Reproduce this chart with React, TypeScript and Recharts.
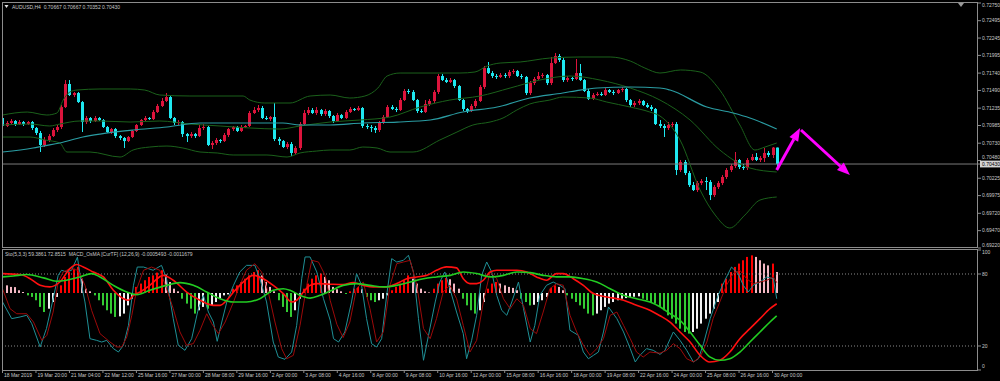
import React from "react";
import { Bar, Cell, ComposedChart, Line, ReferenceLine, XAxis, YAxis } from "recharts";

const FONT = '"Liberation Sans", Arial, sans-serif';
const TEXT = "#c8c8c8";
const FRAME = "#8c8c8c";
const BULL = "#dc143c";
const BEAR = "#1ee8f0";
const BAND = "#1b611b";
const MA = "#2a9ca2";
const STO_MAIN = "#1f9096";
const STO_SIG = "#9c0a0a";
const MACD_COLOR = "#ff1010";
const SIGNAL_COLOR = "#22cc22";
const MAGENTA = "#ff00ff";

const X_DOMAIN: [number, number] = [-0.12, 233.1];
const LAST_PRICE = 0.7043;

// AUDUSD H4 candles: [open, high, low, close]
const candles: number[][] = [
  [0.71093, 0.71122, 0.70949, 0.70978], [0.70978, 0.7105, 0.70963, 0.71021], [0.71021, 0.71078, 0.70992, 0.7105],
  [0.7105, 0.71064, 0.70978, 0.71006], [0.71006, 0.71064, 0.70992, 0.71035], [0.71035, 0.7105, 0.70978, 0.71006],
  [0.71006, 0.7105, 0.70992, 0.71035], [0.71035, 0.7105, 0.7092, 0.70949], [0.70949, 0.70963, 0.70848, 0.70877],
  [0.70877, 0.70906, 0.70603, 0.70704], [0.70704, 0.70819, 0.70675, 0.70776], [0.70776, 0.70862, 0.70747, 0.70833],
  [0.70833, 0.70949, 0.70819, 0.7092], [0.7092, 0.70992, 0.70891, 0.70963], [0.70963, 0.7128, 0.70934, 0.71251],
  [0.71251, 0.7164, 0.71237, 0.71583], [0.71583, 0.7164, 0.7141, 0.71424], [0.71424, 0.71468, 0.71395, 0.71453],
  [0.71453, 0.71468, 0.71309, 0.71323], [0.71323, 0.71338, 0.70891, 0.71035], [0.71035, 0.71122, 0.71006, 0.71093],
  [0.71093, 0.71107, 0.71021, 0.7105], [0.7105, 0.71122, 0.71035, 0.71093], [0.71093, 0.71107, 0.7105, 0.71064],
  [0.71064, 0.71078, 0.70949, 0.70963], [0.70963, 0.70978, 0.70877, 0.70891], [0.70891, 0.70949, 0.70862, 0.70934],
  [0.70934, 0.70949, 0.70805, 0.70833], [0.70833, 0.70848, 0.70776, 0.70805], [0.70805, 0.70819, 0.70661, 0.70761],
  [0.70761, 0.70833, 0.70747, 0.70819], [0.70819, 0.7092, 0.70805, 0.70906], [0.70906, 0.71006, 0.70891, 0.70992],
  [0.70992, 0.71078, 0.70978, 0.71064], [0.71064, 0.71122, 0.7105, 0.71093], [0.71093, 0.71107, 0.71064, 0.71078],
  [0.71078, 0.71208, 0.71064, 0.71179], [0.71179, 0.71295, 0.71165, 0.71266], [0.71266, 0.71381, 0.71251, 0.71338],
  [0.71338, 0.71453, 0.71323, 0.71395], [0.71395, 0.7141, 0.71078, 0.71093], [0.71093, 0.71107, 0.70992, 0.71021],
  [0.71021, 0.71064, 0.70992, 0.71035], [0.71035, 0.7105, 0.70819, 0.70862], [0.70862, 0.70877, 0.70747, 0.70833],
  [0.70833, 0.70891, 0.70805, 0.70862], [0.70862, 0.70877, 0.70805, 0.70833], [0.70833, 0.70992, 0.70819, 0.70949],
  [0.70949, 0.71006, 0.7092, 0.70963], [0.70963, 0.70978, 0.70689, 0.70704], [0.70704, 0.70761, 0.70646, 0.70733],
  [0.70733, 0.70805, 0.70704, 0.70776], [0.70776, 0.7079, 0.70733, 0.70761], [0.70761, 0.70877, 0.70747, 0.70848],
  [0.70848, 0.70949, 0.70819, 0.70934], [0.70934, 0.70978, 0.70906, 0.70963], [0.70963, 0.70978, 0.70891, 0.70906],
  [0.70906, 0.70992, 0.70891, 0.70963], [0.70963, 0.70992, 0.70949, 0.70978], [0.70978, 0.71194, 0.70963, 0.71165],
  [0.71165, 0.71251, 0.71151, 0.71208], [0.71208, 0.7128, 0.71179, 0.71237], [0.71237, 0.71266, 0.71078, 0.71093],
  [0.71093, 0.71122, 0.71064, 0.71078], [0.71078, 0.71122, 0.7105, 0.71107], [0.71107, 0.71309, 0.70761, 0.7079],
  [0.7079, 0.70819, 0.70704, 0.70761], [0.70761, 0.70776, 0.70661, 0.70675], [0.70675, 0.70747, 0.70646, 0.70718],
  [0.70718, 0.70747, 0.70545, 0.70589], [0.70589, 0.70689, 0.7056, 0.70661], [0.70661, 0.71035, 0.70632, 0.71006],
  [0.71006, 0.71208, 0.70992, 0.71165], [0.71165, 0.71251, 0.71136, 0.71208], [0.71208, 0.71237, 0.71151, 0.71165],
  [0.71165, 0.71251, 0.71136, 0.71208], [0.71208, 0.71223, 0.71122, 0.71151], [0.71151, 0.71223, 0.71122, 0.71194],
  [0.71194, 0.71208, 0.71093, 0.71122], [0.71122, 0.71136, 0.71021, 0.7105], [0.7105, 0.71165, 0.71035, 0.71136],
  [0.71136, 0.71151, 0.71078, 0.71093], [0.71093, 0.71208, 0.71078, 0.71179], [0.71179, 0.71251, 0.71165, 0.71223],
  [0.71223, 0.71237, 0.71194, 0.71208], [0.71208, 0.71266, 0.71194, 0.71237], [0.71237, 0.71251, 0.70949, 0.70978],
  [0.70978, 0.71006, 0.70934, 0.70963], [0.70963, 0.70992, 0.70891, 0.70949], [0.70949, 0.70978, 0.70877, 0.7092],
  [0.7092, 0.7105, 0.70891, 0.71021], [0.71021, 0.71136, 0.71006, 0.71107], [0.71107, 0.7128, 0.71093, 0.71251],
  [0.71251, 0.7128, 0.71208, 0.71223], [0.71223, 0.71251, 0.71179, 0.71208], [0.71208, 0.71381, 0.71194, 0.71352],
  [0.71352, 0.71511, 0.71338, 0.71482], [0.71482, 0.71511, 0.71439, 0.71468], [0.71468, 0.71496, 0.71338, 0.71352],
  [0.71352, 0.71367, 0.71165, 0.71194], [0.71194, 0.71223, 0.71165, 0.71179], [0.71179, 0.71352, 0.71165, 0.71295],
  [0.71295, 0.71367, 0.71266, 0.71338], [0.71338, 0.71496, 0.71309, 0.71468], [0.71468, 0.71727, 0.71439, 0.71698],
  [0.71698, 0.71727, 0.71626, 0.7164], [0.7164, 0.71669, 0.71597, 0.71612], [0.71612, 0.71669, 0.71597, 0.7164],
  [0.7164, 0.71655, 0.71525, 0.71554], [0.71554, 0.71568, 0.71338, 0.71352], [0.71352, 0.71367, 0.71194, 0.71223],
  [0.71223, 0.71237, 0.71165, 0.71194], [0.71194, 0.71295, 0.71179, 0.71266], [0.71266, 0.71367, 0.71237, 0.71338],
  [0.71338, 0.71568, 0.71323, 0.7154], [0.7154, 0.71842, 0.71511, 0.71813], [0.71813, 0.719, 0.71727, 0.71741],
  [0.71741, 0.7177, 0.71669, 0.71698], [0.71698, 0.71727, 0.71655, 0.71684], [0.71684, 0.71741, 0.71669, 0.71712],
  [0.71712, 0.71741, 0.71669, 0.71698], [0.71698, 0.71785, 0.71669, 0.71756], [0.71756, 0.71799, 0.71727, 0.7177],
  [0.7177, 0.71785, 0.71684, 0.71698], [0.71698, 0.71727, 0.71655, 0.71684], [0.71684, 0.71698, 0.71424, 0.71453],
  [0.71453, 0.71626, 0.71424, 0.71597], [0.71597, 0.71684, 0.71568, 0.71655], [0.71655, 0.71756, 0.7164, 0.71698],
  [0.71698, 0.71741, 0.71669, 0.71712], [0.71712, 0.71727, 0.71568, 0.71597], [0.71597, 0.71972, 0.71568, 0.71885],
  [0.71885, 0.7203, 0.71871, 0.71986], [0.71986, 0.72015, 0.719, 0.71929], [0.71929, 0.71957, 0.71612, 0.7164],
  [0.7164, 0.71698, 0.71612, 0.71669], [0.71669, 0.71684, 0.71626, 0.71655], [0.71655, 0.71943, 0.7164, 0.71741],
  [0.71741, 0.71871, 0.71626, 0.7164], [0.7164, 0.71655, 0.71468, 0.71482], [0.71482, 0.71511, 0.71352, 0.71367],
  [0.71367, 0.71453, 0.71352, 0.71424], [0.71424, 0.71468, 0.7141, 0.71439], [0.71439, 0.71468, 0.7141, 0.71424],
  [0.71424, 0.71525, 0.7141, 0.71496], [0.71496, 0.71511, 0.71453, 0.71468], [0.71468, 0.71496, 0.71424, 0.71453],
  [0.71453, 0.71511, 0.71439, 0.71496], [0.71496, 0.7154, 0.71468, 0.71511], [0.71511, 0.71525, 0.71323, 0.71352],
  [0.71352, 0.71367, 0.71251, 0.7128], [0.7128, 0.71338, 0.71251, 0.71309], [0.71309, 0.71367, 0.7128, 0.71338],
  [0.71338, 0.71352, 0.71266, 0.7128], [0.7128, 0.71309, 0.71237, 0.71251], [0.71251, 0.7128, 0.71194, 0.71223],
  [0.71223, 0.71237, 0.70992, 0.71006], [0.71006, 0.71064, 0.70949, 0.70978], [0.70978, 0.71006, 0.70819, 0.70949],
  [0.70949, 0.71035, 0.7092, 0.70992], [0.70992, 0.71035, 0.70963, 0.71006], [0.71006, 0.71035, 0.70271, 0.70344],
  [0.70344, 0.70488, 0.70315, 0.70459], [0.70459, 0.70488, 0.70271, 0.703], [0.703, 0.70329, 0.70099, 0.70127],
  [0.70127, 0.70171, 0.70041, 0.70055], [0.70055, 0.70185, 0.70027, 0.70156], [0.70156, 0.70214, 0.70127, 0.70185],
  [0.70185, 0.70243, 0.70055, 0.70171], [0.70171, 0.70199, 0.69911, 0.69983], [0.69983, 0.70127, 0.69955, 0.70099],
  [0.70099, 0.70185, 0.7007, 0.70156], [0.70156, 0.70271, 0.70127, 0.70243], [0.70243, 0.70372, 0.70214, 0.70344],
  [0.70344, 0.7043, 0.70315, 0.70401], [0.70401, 0.70603, 0.70372, 0.70488], [0.70488, 0.70502, 0.70358, 0.70387],
  [0.70387, 0.7043, 0.70344, 0.70372], [0.70372, 0.70516, 0.70344, 0.70488], [0.70488, 0.70574, 0.70473, 0.70531],
  [0.70531, 0.70589, 0.70473, 0.70488], [0.70488, 0.70545, 0.70459, 0.70516], [0.70516, 0.70661, 0.70459, 0.70589],
  [0.70589, 0.70617, 0.70531, 0.7056], [0.7056, 0.70675, 0.70516, 0.70667], [0.70667, 0.70667, 0.70352, 0.7043],
];

// Bollinger bands (20) and slow moving average: [bar, price]
const bbUpper = [
  [0, 0.71136], [5.9, 0.71179], [10.6, 0.71136], [13, 0.71165], [14.5, 0.71352], [16.1, 0.71468], [17.8, 0.71496],
  [23.3, 0.71511], [30.5, 0.71511], [34, 0.71496], [37.6, 0.71424], [44.8, 0.7141], [57.5, 0.7141], [59.1, 0.71352],
  [62.7, 0.71309], [68.7, 0.71309], [73.5, 0.7141], [78.3, 0.71424], [83, 0.71381], [86.6, 0.7141], [89.7, 0.71525],
  [91.9, 0.71698], [95, 0.71741], [104.5, 0.71741], [109.3, 0.71741], [112.9, 0.71756], [115.8, 0.71842],
  [118.9, 0.71885], [123.7, 0.719], [130.8, 0.71957], [138, 0.71972], [145.2, 0.71972], [150, 0.71914],
  [153.5, 0.71813], [157.1, 0.71741], [162, 0.71785], [166.7, 0.71756], [171.4, 0.71496], [176.2, 0.70992],
  [179.8, 0.70632], [182.2, 0.70675], [185, 0.70733],
];
const bbMiddle = [
  [0, 0.70992], [6.6, 0.71006], [11.3, 0.70978], [13.7, 0.71006], [18.5, 0.7105], [23.3, 0.7105], [30.5, 0.71035],
  [37.6, 0.7105], [44.8, 0.71006], [52, 0.70978], [59.1, 0.70949], [66.3, 0.70934], [71.1, 0.70978], [78.3, 0.71035],
  [85.4, 0.71064], [92.6, 0.71107], [99.8, 0.71251], [106.9, 0.71352], [114.1, 0.7141], [121.3, 0.71525],
  [128.4, 0.7164], [135.6, 0.71698], [142.8, 0.7164], [150, 0.71525], [157.1, 0.71352], [164.3, 0.71064],
  [171.4, 0.70632], [178.6, 0.70372], [185, 0.70315],
];
const bbLower = [
  [0, 0.70819], [6.6, 0.70819], [10.2, 0.70776], [13.7, 0.70733], [15.4, 0.70603], [20.9, 0.70603], [28.1, 0.70531],
  [31.2, 0.70632], [35.2, 0.70675], [39.3, 0.70689], [43.1, 0.70661], [47.2, 0.70603], [51.3, 0.70589],
  [55.1, 0.7056], [63.2, 0.7056], [68, 0.70531], [71.1, 0.70589], [75.1, 0.70617], [78.3, 0.70632], [83, 0.70632],
  [86.1, 0.70675], [89.5, 0.70661], [92.6, 0.70603], [98.1, 0.70603], [104.5, 0.70776], [108.6, 0.70891],
  [112.4, 0.70992], [116.5, 0.71035], [119.6, 0.71093], [122.9, 0.71208], [126, 0.71295], [130.8, 0.71352],
  [133.9, 0.71395], [140.4, 0.71381], [144.4, 0.71323], [150, 0.71251], [154.7, 0.71179], [157.1, 0.71122],
  [161.9, 0.70776], [166.7, 0.70055], [170.3, 0.69695], [173.8, 0.69508], [177.4, 0.69695], [181, 0.69911],
  [185, 0.69955],
];
const maSlow = [
  [0, 0.70603], [7.3, 0.70661], [9.7, 0.70689], [13.7, 0.70733], [19.2, 0.70819], [23.3, 0.70862], [31.2, 0.7092],
  [39.3, 0.70963], [47.2, 0.71021], [55.1, 0.71021], [67, 0.71021], [71.1, 0.70992], [78.3, 0.70992],
  [86.1, 0.71021], [94.3, 0.71035], [102.2, 0.71064], [110, 0.71179], [118.2, 0.71251], [126, 0.71381],
  [133.9, 0.71453], [138, 0.71496], [142.1, 0.71525], [150, 0.7154], [157.1, 0.71525], [159.5, 0.71496],
  [168.3, 0.71251], [174.6, 0.71165], [178.6, 0.71093], [185, 0.70934],
];

// Stochastic (5,3,3): [bar, value]
const stoMain = [
  [0, 56.7], [2.2, 42.8], [4.2, 44.2], [5.8, 45.6], [7, 38.6], [9, 19.2], [10.5, 34.5], [12.1, 59.4], [13.3, 78.9],
  [14.1, 83.1], [15.3, 81.7], [16.5, 83.1], [17.9, 94], [18.9, 70.6], [19.7, 56.7], [20.9, 26.1], [22.5, 24.7],
  [23.7, 23.3], [24.9, 24.7], [26.5, 17.8], [27.7, 15], [28.9, 20.6], [30.1, 37.2], [31.3, 70.6], [32.2, 85.8],
  [33.7, 85.8], [36, 83.1], [38, 87.2], [39.2, 76.1], [40.8, 42.8], [42, 20.6], [43.6, 16.4], [45.2, 26.1],
  [46.8, 51.1], [48, 62.2], [49.2, 48.3], [50.4, 40], [51.3, 23.9], [52.4, 40], [53.6, 56.7], [55.2, 70.6],
  [56.7, 81.7], [58.3, 87.2], [60.3, 87.2], [61.5, 76.1], [63.1, 56.7], [64.7, 23.3], [65.9, 10.8], [67.5, 8.9],
  [69.1, 15], [70.3, 37.2], [71.5, 76.1], [72.3, 94.2], [73.5, 94.2], [75.1, 81.7], [76.7, 59.4], [78.3, 41.5],
  [79.1, 26.1], [80.3, 23.3], [81.8, 31.7], [83.4, 56.7], [84.6, 80.3], [85.8, 70.6], [87, 42.8], [88.2, 21.9],
  [89.4, 19.2], [90.6, 26.1], [91.8, 62.2], [93, 92.8], [94.2, 90], [95.8, 91.4], [97, 95.6], [98.2, 81.7],
  [99.4, 42.8], [100.6, 8.1], [101.8, 28.9], [103.4, 56.7], [104.5, 73.3], [105.7, 81.7], [106.9, 67.8],
  [108.5, 48.3], [110.1, 30.3], [110.9, 9.4], [112.1, 24.7], [113.3, 45.6], [114.5, 78.9], [115.7, 90],
  [116.9, 81.7], [118.1, 62.2], [119.3, 49.7], [120.5, 45.6], [121.7, 56.7], [123.3, 73.3], [124.5, 51.1],
  [126.1, 23.3], [127.2, 37.2], [128.4, 62.2], [130, 70.6], [131.6, 73.3], [133.2, 70.6], [134.4, 67.8],
  [135.6, 33.1], [137.6, 28.9], [138.8, 15], [140, 9.4], [141.2, 12.2], [142.4, 15], [143.6, 31.7], [144.8, 52.5],
  [146.8, 42.8], [148.4, 31.7], [150, 17.8], [151.2, 6.7], [152.3, 12.2], [153.9, 17.8], [155.5, 16.4], [157.1, 13],
  [158.3, 16.4], [160.3, 31.7], [161.9, 24.7], [163.5, 16.4], [165.1, 6.7], [166.3, 9.4], [167.5, 21.9],
  [169.1, 42.8], [171, 62.2], [172.6, 74.7], [174.2, 85.8], [175.8, 80.3], [177, 70.6], [178.2, 65], [179.4, 70.6],
  [181, 73.3], [182.6, 77.5], [184.2, 76.1], [185, 59.39],
];
const stoSignal = [
  [0, 67.7], [1.8, 51.1], [3.4, 46.9], [5.8, 46.9], [7.4, 40], [9.4, 24.7], [10.6, 28.9], [12.1, 48.3], [13.3, 73.3],
  [14.5, 81.7], [16.1, 84.4], [18.1, 83.1], [19.7, 70.6], [21.3, 49.7], [23.3, 30.3], [25.7, 23.3], [27.3, 19.2],
  [28.5, 19.2], [29.7, 27.5], [30.9, 45.6], [32.1, 67.8], [33.7, 83.1], [35.6, 85.8], [37.6, 83.1], [39.2, 67.8],
  [40.8, 51.1], [42.4, 31.7], [44, 20.6], [45.6, 22], [47.2, 33.1], [48.8, 46.9], [50, 38.6], [51.6, 30.3],
  [53.2, 40], [55.2, 56.7], [56.7, 70.6], [58.3, 83.1], [60.3, 88.6], [61.9, 81.7], [63.5, 65], [65.1, 40],
  [66.7, 17.8], [67.9, 9.4], [69.5, 12.2], [71.1, 37.2], [72.7, 70.6], [73.9, 91.4], [75.5, 90], [77.1, 78.9],
  [78.3, 58], [79.9, 38], [81.4, 27], [83, 40], [84.6, 68], [86.2, 73.3], [87.8, 51.1], [89.4, 23.3], [91, 31.7],
  [92.6, 70.6], [94.2, 88.6], [95.8, 90], [97.4, 91.4], [99, 70.6], [100.6, 34.5], [102.2, 26.1], [103.7, 42.8],
  [105.3, 65], [106.9, 70.6], [108.5, 59.4], [110.1, 37.2], [111.7, 15], [113.3, 24.7], [114.9, 56.7],
  [116.5, 81.7], [118.1, 76.1], [119.7, 59.4], [121.3, 51.1], [122.9, 59.4], [124.5, 53.9], [126.1, 34.5],
  [127.6, 30.3], [129.2, 48.3], [130.8, 67.8], [132.4, 71.9], [134, 70.6], [135.6, 45.6], [137.2, 31.7],
  [138.8, 20.6], [140.4, 12.2], [142, 17.8], [143.6, 26.1], [145.2, 45.6], [146.8, 48.3], [148.4, 37.2],
  [150, 26.1], [151.5, 15], [153.1, 10.8], [154.7, 15], [157.1, 14], [158.7, 16.4], [160.3, 21.9], [161.9, 17.8],
  [163.5, 9.4], [165.1, 6.7], [166.7, 10.8], [168.3, 23.3], [169.8, 42.8], [171.4, 56.7], [173, 70.6],
  [174.6, 80.3], [176.2, 83.1], [177.8, 76.1], [179.4, 71.9], [181, 73.3], [182.6, 74.7], [184.2, 77.5],
  [185, 72.85],
];

// MACD_OsMA (12,26,9), values in units of 0.0001
const macdLine = [
  [0, 9.9], [4.2, 9.4], [6.6, 7.3], [9, 3.9], [11.3, 3.1], [13.7, 5.6], [16.1, 12.4], [17.7, 14.5], [19.3, 13.3],
  [21.7, 10.7], [24.1, 8.2], [26.5, 1.4], [28.9, -2.9], [30.1, -3.7], [31.3, -1.2], [32.9, 0.5], [35.2, 3.9],
  [38.4, 9], [40.8, 6.5], [44, 0.5], [47.2, -3.7], [50.4, -6.3], [52, -6.3], [53.6, -3.7], [55.2, 0.5], [57.5, 5.6],
  [59.9, 9], [62.3, 7.3], [64.7, 3.9], [67.1, -0.3], [69.1, -4.6], [70.3, -3.7], [71.9, 0.5], [73.5, 3.9],
  [75.1, 4.8], [78.3, 4.5], [81.4, 4.3], [83.8, 5.3], [86.2, 3.9], [88.6, 3.1], [91.8, 3.1], [94.2, 4.8],
  [96.6, 7.3], [99, 8.2], [101.4, 9], [103.7, 11.6], [106.1, 13.3], [108.5, 12.8], [110.1, 7.3], [111.7, 4.8],
  [113.3, 4.8], [114.9, 6.5], [116.5, 10.7], [118.1, 11.6], [120.5, 11.6], [122.9, 11.6], [125.3, 10.7],
  [127.6, 8.2], [130, 6.5], [132.4, 9.9], [134, 9.9], [136.4, 7.3], [138.8, 3.9], [141.2, -0.3], [144.4, -2],
  [148.4, -3.7], [151.5, -6.3], [154.7, -8.8], [157.1, -11.6], [159.5, -14.8], [161.9, -19.9], [164.3, -25],
  [166.7, -31.8], [169, -35.2], [171.4, -34.3], [173.8, -30.1], [176.2, -23.3], [178.6, -18.2], [181, -13.1],
  [183.4, -8], [185, -5.49],
];
const signalLine = [
  [0, 8.2], [2.6, 8.7], [5.8, 9.4], [9.8, 7.7], [12.9, 6], [15.3, 6.5], [18.5, 8.2], [21.3, 9.9], [23.3, 8.2],
  [26.5, 3.9], [29.7, 0.5], [32.1, -0.85], [35.2, 1.4], [39.2, 3.9], [42.4, 5.3], [45.6, 3.9], [48.8, 0.5],
  [52, -2.9], [55.2, -4.6], [58.3, -4.6], [61.5, -2.9], [64.7, 1.4], [67.1, 2.2], [68.7, 1.4], [71.1, -1.2],
  [73.5, -2.6], [75.9, -1.2], [78.3, 1], [81.4, 3.9], [84.6, 4.8], [87.8, 3.9], [91, 3.1], [94.2, 3.9], [97.4, 5.6],
  [100.6, 7.3], [103.7, 8.2], [107, 9], [110.1, 10.7], [113.3, 9.9], [116.5, 8.2], [119.7, 9], [122.9, 10.7],
  [126.1, 10.4], [129.2, 9], [132.4, 8.2], [135.6, 8.2], [138.8, 7.3], [142, 5.6], [145.2, 2.2], [148.4, -1.2],
  [151.5, -2.9], [154.7, -4.6], [157.1, -7], [159.5, -10.5], [161.9, -13.9], [164.3, -19.9], [166.7, -26.7],
  [169, -32.6], [171.4, -34.3], [173.8, -33.5], [176.2, -30.1], [178.6, -25], [181, -19.9], [183.4, -14.8],
  [185, -11.68],
];
const osma = [
  4.8, 3.9, 3.1, 3.0, 1.4, 0.5, -1.2, -2, -3.7, -7.1,
  -9.7, -8, -4.6, -2, 3.9, 8.2, 10.7, 12.4, 13.3, 7.3,
  2.2, 0.85, -1.2, -3.7, -6.3, -8.8, -10.5, -12.2, -11.9, -10.5,
  -6.3, -2.9, 3.1, 4.8, 6.5, 8.2, 9, 10.4, 11.6, 9.4,
  5.6, 2.2, 0.85, -2.9, -5.4, -8, -10.5, -8.8, -7.1, -8,
  -6.3, -4.6, -2.9, -1.2, -0.7, 2.2, 3.9, 5.6, 7.3, 9,
  10.7, 11.6, 9, 5.6, 3.1, 0.85, -3.7, -7.1, -9.7, -12.2,
  -8.8, -2.9, 2.2, 4.8, 7.3, 9, 9.9, 8.2, 6.5, 3.1,
  1.9, 0.85, -0.5, 0.85, 2.2, 3.1, 1.9, -2, -3.7, -4.6,
  -3.7, -2.9, -1.2, 1.4, 3.1, 4.8, 6.5, 9, 7.3, 4.8,
  2.2, 0.85, 0.3, 2.2, 4.8, 6.5, 7.7, 7, 4.8, 2.2,
  -2.9, -6.3, -8.8, -10.5, -8.8, -4.6, 2.2, 4.8, 5.6, 4.8,
  3.9, 3.1, 2.6, 1.4, -2.9, -4.6, -6.3, -6, -4.6, -3.7,
  -2, 2.6, 3.9, 3.1, 1.4, -1.2, -2.9, -4.6, -6.3, -8,
  -10.5, -11.4, -10.5, -8.8, -7.1, -5.4, -4.6, -3.7, -2.9, -2.6,
  -2, -1.9, -1.7, -2.9, -3.7, -4.6, -5.4, -7.1, -8.8, -11.4,
  -13.1, -15.6, -18.2, -19.9, -20.7, -19.9, -18.2, -15.6, -13.1, -10.5,
  -8, -4.6, 4.8, 7.3, 10.7, 13.3, 15, 16.7, 18.4, 19.2,
  18.4, 16.7, 15, 14.1, 15, 10.7,
];

const priceTicks = [
  0.7275, 0.72495, 0.72245, 0.71995, 0.7174, 0.7149, 0.71235, 0.70985, 0.7073, 0.7048, 0.70225, 0.69975, 0.6972,
  0.6947, 0.6922, LAST_PRICE,
];
const timeLabels = [
  "18 Mar 2019", "19 Mar 20:00", "21 Mar 04:00", "22 Mar 12:00", "25 Mar 16:00", "27 Mar 00:00", "28 Mar 08:00",
  "29 Mar 16:00", "2 Apr 00:00", "3 Apr 08:00", "4 Apr 16:00", "8 Apr 00:00", "9 Apr 08:00", "10 Apr 16:00",
  "12 Apr 00:00", "15 Apr 08:00", "16 Apr 16:00", "18 Apr 00:00", "19 Apr 08:00", "22 Apr 16:00", "24 Apr 00:00",
  "25 Apr 08:00", "26 Apr 16:00", "30 Apr 00:00",
];
const timeLabelBars = [0, 8, 16, 24, 32, 40, 48, 56, 64, 72, 80, 88, 96, 104, 112, 120, 128, 136, 144, 152, 160, 168, 176, 184];

// hand drawn arrows on the chart: [bar, price] -> [bar, price]
const arrows = [
  [[185, 0.70344], [190.6, 0.70949]],
  [[190.8, 0.7092], [202.5, 0.70271]],
];

const candleData = candles.map(([o, h, l, c], i) => ({ i, o, h, l, c, range: [l, h] }));
const histData = osma.map((v, i) => ({ i, v }));
const pts = (arr: number[][]) => arr.map(([i, v]) => ({ i, v }));

function histColor(i: number) {
  const v = osma[i];
  const prev = i > 0 ? osma[i - 1] : v;
  if (v >= 0) return v >= prev ? "#ff0000" : "#f4b8c4";
  return v < prev ? "#33cc33" : "#f2f2f2";
}

function Candle(props: any) {
  const { x, y, width, height, payload } = props;
  const { o, h, l, c } = payload;
  const color = c >= o ? BULL : BEAR;
  const top = height >= 0 ? y : y + height;
  const hgt = Math.abs(height);
  const span = h - l || 1e-9;
  const yOf = (p: number) => top + ((h - p) / span) * hgt;
  const cx = Math.round(x + width / 2) + 0.5;
  const bTop = yOf(Math.max(o, c));
  const bBot = yOf(Math.min(o, c));
  return (
    <g>
      <line x1={cx} x2={cx} y1={top} y2={top + hgt} stroke={color} strokeWidth={1} />
      <rect x={cx - 1.5} y={bTop} width={3} height={Math.max(1, bBot - bTop)} fill={color} />
    </g>
  );
}

function HistBar(props: any) {
  const { x, y, width, height, fill } = props;
  if (x == null || y == null) return null;
  const cx = Math.round(x + width / 2);
  const top = height >= 0 ? y : y + height;
  return <rect x={cx - 1} y={top} width={2} height={Math.max(Math.abs(height), 0.6)} fill={fill} />;
}

function Arrow(props: any) {
  const { x1, y1, x2, y2 } = props;
  const ang = Math.atan2(y2 - y1, x2 - x1);
  const len = 13;
  const half = 5;
  const bx = x2 - len * Math.cos(ang);
  const by = y2 - len * Math.sin(ang);
  const px = -Math.sin(ang) * half;
  const py = Math.cos(ang) * half;
  return (
    <g>
      <line x1={x1} y1={y1} x2={bx} y2={by} stroke={MAGENTA} strokeWidth={3} />
      <polygon points={`${x2},${y2} ${bx + px},${by + py} ${bx - px},${by - py}`} fill={MAGENTA} />
    </g>
  );
}

function PriceTick(props: any) {
  const { x, y, payload } = props;
  const v = payload.value;
  const label = v.toFixed(5);
  if (v === LAST_PRICE) {
    return (
      <g>
        <rect x={x - 2} y={y - 3.4} width={24} height={6.8} fill="#d4d4d4" />
        <text x={x} y={y} dy="0.35em" fontSize={5} fill="#000" fontFamily={FONT}>{label}</text>
      </g>
    );
  }
  // the label right above the current price is pushed up so the two do not collide
  const nudge = v === 0.7048 ? -3 : 0;
  const yy = Math.min(Math.max(y + nudge, 5.5), 245.5);
  return <text x={x} y={yy} dy="0.35em" fontSize={5} fill={TEXT} fontFamily={FONT}>{label}</text>;
}

function LevelTick(props: any) {
  const { x, y, payload } = props;
  const v = payload.value;
  const off = v === 100 ? 2.5 : v === 0 ? -3.5 : 0;
  return <text x={x} y={y + off} dy="0.35em" fontSize={5} fill={TEXT} fontFamily={FONT}>{v}</text>;
}

function TimeTick(props: any) {
  const { x, y, payload } = props;
  const k = timeLabelBars.indexOf(payload.value);
  return (
    <text x={x + 1.5} y={y + 2.5} dy="0.35em" fontSize={5} fill={TEXT} fontFamily={FONT} textAnchor="start">
      {timeLabels[k]}
    </text>
  );
}

export default function App() {
  return (
    <div style={{ position: "fixed", left: 0, top: 0, width: 1000, height: 381, background: "#000", overflow: "hidden", fontFamily: FONT }}>
      <div style={{ position: "absolute", left: 0, top: 0 }}>
        <ComposedChart width={1000} height={250} data={candleData} margin={{ top: 3, right: 0, bottom: 2, left: 2 }}>
          <XAxis type="number" dataKey="i" domain={X_DOMAIN} hide allowDataOverflow />
          <YAxis
            orientation="right"
            width={22}
            domain={[0.6922, 0.7275]}
            ticks={priceTicks}
            interval={0}
            allowDataOverflow
            axisLine={false}
            tickLine={{ stroke: FRAME }}
            tickSize={3}
            tickMargin={1}
            tick={<PriceTick />}
          />
          <ReferenceLine y={LAST_PRICE} stroke="#7a7a7a" strokeWidth={1} />
          <Line data={pts(bbUpper)} dataKey="v" type="monotone" stroke={BAND} strokeWidth={1} dot={false} isAnimationActive={false} />
          <Line data={pts(bbMiddle)} dataKey="v" type="monotone" stroke={BAND} strokeWidth={1} dot={false} isAnimationActive={false} />
          <Line data={pts(bbLower)} dataKey="v" type="monotone" stroke={BAND} strokeWidth={1} dot={false} isAnimationActive={false} />
          <Line data={pts(maSlow)} dataKey="v" type="monotone" stroke={MA} strokeWidth={1.2} dot={false} isAnimationActive={false} />
          <Bar dataKey="range" barSize={3} shape={<Candle />} isAnimationActive={false} />
          {arrows.map(([a, b], k) => (
            <ReferenceLine key={k} segment={[{ x: a[0], y: a[1] }, { x: b[0], y: b[1] }]} shape={<Arrow />} />
          ))}
        </ComposedChart>
      </div>
      <div style={{ position: "absolute", left: 0, top: 249 }}>
        <ComposedChart width={1000} height={132} data={histData} margin={{ top: 1, right: 0, bottom: 0, left: 2 }}>
          <XAxis
            type="number"
            dataKey="i"
            domain={X_DOMAIN}
            allowDataOverflow
            ticks={timeLabelBars}
            interval={0}
            height={11}
            axisLine={false}
            tickLine={{ stroke: FRAME }}
            tickSize={3}
            tickMargin={0}
            tick={<TimeTick />}
          />
          <YAxis
            yAxisId="sto"
            orientation="right"
            width={22}
            domain={[0, 100]}
            ticks={[0, 20, 80, 100]}
            interval={0}
            axisLine={false}
            tickLine={{ stroke: FRAME }}
            tickSize={3}
            tickMargin={1}
            tick={<LevelTick />}
          />
          <YAxis yAxisId="osma" hide domain={[-39.27, 21.93]} allowDataOverflow />
          <ReferenceLine yAxisId="sto" y={80} stroke="#8a8a8a" strokeDasharray="1 2" />
          <ReferenceLine yAxisId="sto" y={20} stroke="#8a8a8a" strokeDasharray="1 2" />
          <Bar yAxisId="osma" dataKey="v" barSize={2} shape={<HistBar />} isAnimationActive={false}>
            {histData.map((d) => (
              <Cell key={d.i} fill={histColor(d.i)} />
            ))}
          </Bar>
          <Line yAxisId="sto" data={pts(stoMain)} dataKey="v" stroke={STO_MAIN} strokeWidth={1} dot={false} isAnimationActive={false} />
          <Line yAxisId="sto" data={pts(stoSignal)} dataKey="v" stroke={STO_SIG} strokeWidth={1} dot={false} isAnimationActive={false} />
          <Line yAxisId="osma" data={pts(macdLine)} dataKey="v" type="monotone" stroke={MACD_COLOR} strokeWidth={1.6} dot={false} isAnimationActive={false} />
          <Line yAxisId="osma" data={pts(signalLine)} dataKey="v" type="monotone" stroke={SIGNAL_COLOR} strokeWidth={1.6} dot={false} isAnimationActive={false} />
        </ComposedChart>
      </div>
      <div style={{ position: "absolute", left: 2, top: 2, width: 976, height: 246, border: `1px solid ${FRAME}`, boxSizing: "border-box", pointerEvents: "none" }} />
      <div style={{ position: "absolute", left: 2, top: 249, width: 976, height: 122, border: `1px solid ${FRAME}`, boxSizing: "border-box", pointerEvents: "none" }} />
      <svg style={{ position: "absolute", left: 0, top: 0 }} width={1000} height={12}>
        <polygon points="4.5,5 8.5,5 6.5,8" fill="#e0e0e0" />
        <polygon points="958,3 964,3 961,7" fill="#9a9a9a" />
      </svg>
      <div style={{ position: "absolute", left: 12, top: 4, fontSize: 5, color: TEXT, whiteSpace: "pre", lineHeight: "6px" }}>
        AUDUSD,H4  0.70667 0.70667 0.70352 0.70430
      </div>
      <div style={{ position: "absolute", left: 5, top: 251, fontSize: 5, color: TEXT, whiteSpace: "pre", lineHeight: "6px" }}>
        Sto(5,3,3) 59.3861 72.8515  MACD_OsMA [CurTF] (12,26,9) -0.0005493 -0.0011679
      </div>
    </div>
  );
}
